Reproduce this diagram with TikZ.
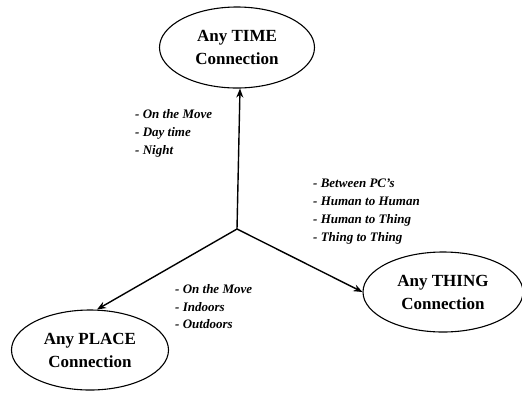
\documentclass[tikz,border=0pt]{standalone}
\usepackage{fontspec}
\setmainfont{Liberation Serif}
\usetikzlibrary{shapes.geometric,arrows.meta}

\tikzset{
  conn/.style={ellipse, draw, line width=1.1pt, inner sep=0pt,
    align=center, font=\fontsize{17}{23}\selectfont\bfseries},
  link/.style={line width=1.4pt, -{Stealth[length=9pt,width=7pt]}},
  item/.style={anchor=base west, inner sep=0pt,
    font=\fontsize{13}{18}\selectfont\bfseries\itshape}
}

\begin{document}
\begin{tikzpicture}[x=1pt,y=-1pt]
  \useasboundingbox (0,0) rectangle (522,392);

  % the three kinds of connection
  \node[conn, minimum width=155pt, minimum height=81pt] (time)  at (237,47.5)
    {Any TIME\\Connection};
  \node[conn, minimum width=157pt, minimum height=80pt] (place) at (90,350)
    {Any PLACE\\Connection};
  \node[conn, minimum width=160pt, minimum height=80pt] (thing) at (443,292)
    {Any THING\\Connection};

  % common origin of the arrows
  \coordinate (hub) at (237,229);

  \draw[link] (hub) -- ([xshift=3pt]time.south);
  \draw[link] (hub) -- ([xshift=7pt]place.north);
  \draw[link] (hub) -- (thing.west);

  % time
  \node[item] (t1) at (135,118) {- On the Move};
  \node[item] (t2) at (135,136) {- Day time};
  \node[item] (t3) at (135,154) {- Night};

  % things
  \node[item] (h1) at (313,187) {- Between PC’s};
  \node[item] (h2) at (313,205) {- Human to Human};
  \node[item] (h3) at (313,223) {- Human to Thing};
  \node[item] (h4) at (313,241) {- Thing to Thing};

  % places
  \node[item] (p1) at (175,293) {- On the Move};
  \node[item] (p2) at (175,311) {- Indoors};
  \node[item] (p3) at (175,328) {- Outdoors};
\end{tikzpicture}
\end{document}
